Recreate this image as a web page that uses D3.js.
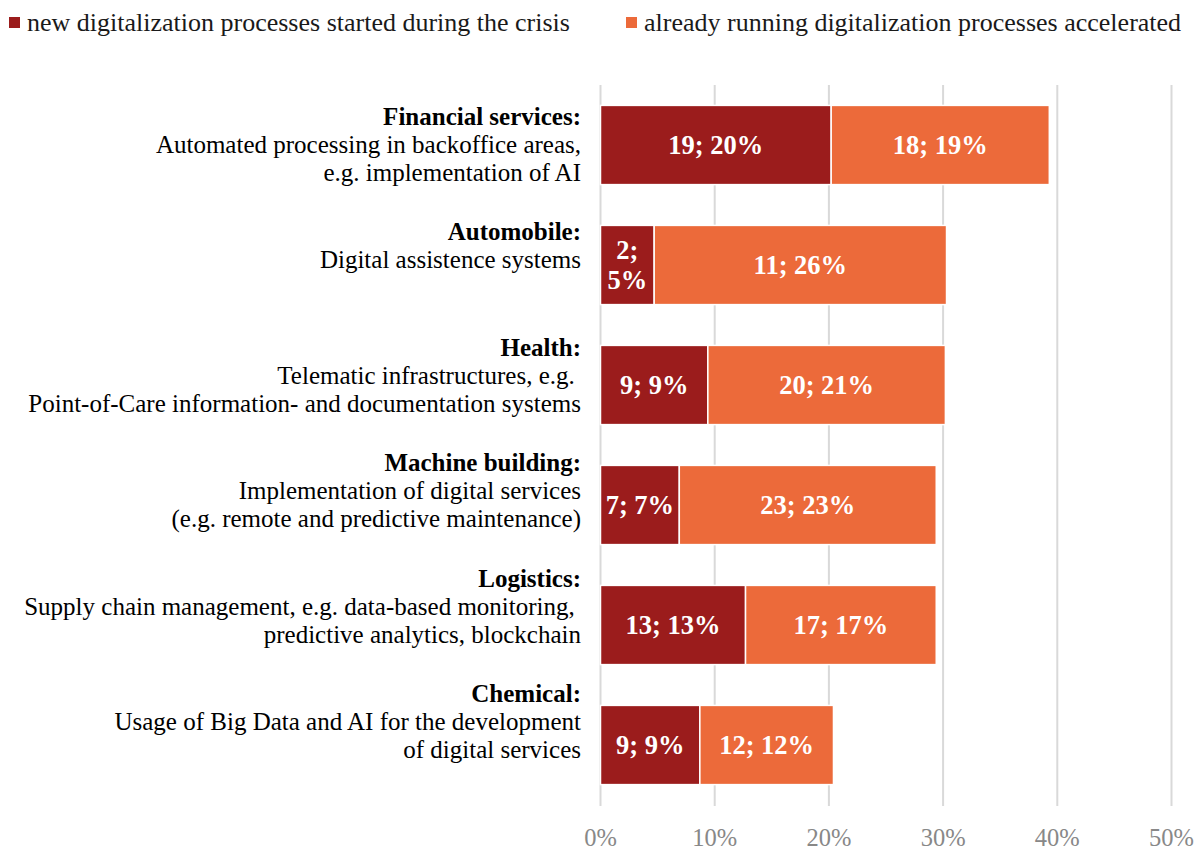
<!DOCTYPE html>
<html>
<head>
<meta charset="utf-8">
<script src="https://cdn.jsdelivr.net/npm/d3@7"></script>
<style>
  body { margin: 0; background: #fff; }
  svg text { font-family: "Liberation Serif", "Times New Roman", serif; }
</style>
</head>
<body>
<div id="chart"></div>
<script>
// categories (title + description lines)
var titles = ["Financial services:", "Automobile:", "Health:", "Machine building:", "Logistics:", "Chemical:"];
var descriptions = [
    ["Automated processing in backoffice areas,", "e.g. implementation of AI"],
    ["Digital assistence systems"],
    ["Telematic infrastructures, e.g. ", "Point-of-Care information- and documentation systems"],
    ["Implementation of digital services", "(e.g. remote and predictive maintenance)"],
    ["Supply chain management, e.g. data-based monitoring, ", "predictive analytics, blockchain"],
    ["Usage of Big Data and AI for the development", "of digital services"]
];
// share of respondents in percent (bar lengths)
var newShare = [20.2, 4.7, 9.4, 6.9, 12.7, 8.7];
var accShare = [19.1, 25.6, 20.8, 22.5, 16.7, 11.7];
// counts and rounded percentages shown in the labels
var newCount = [19, 2, 9, 7, 13, 9];
var newPct = [20, 5, 9, 7, 13, 9];
var accCount = [18, 11, 20, 23, 17, 12];
var accPct = [19, 26, 21, 23, 17, 12];
var seriesNames = ["new digitalization processes started during the crisis", "already running digitalization processes accelerated"];
var xTicks = [0, 10, 20, 30, 40, 50];

var colors = ["#9b1c1c", "#ec6a3a"];
var width = 1200, height = 851;

var svg = d3.select("#chart").append("svg")
    .attr("width", width)
    .attr("height", height);

var xScale = d3.scaleLinear()
    .domain([0, 50])
    .range([600.5, 1171.5]);

var yScale = d3.scaleBand()
    .domain(titles)
    .range([85, 805])
    .paddingInner(0.34)
    .paddingOuter(0.17);

// category labels sit on their own slightly tighter spacing
var labelY = d3.scaleLinear()
    .domain([0, titles.length - 1])
    .range([125, 702]);

//gridlines
svg.selectAll(".grid")
    .data(xTicks)
    .enter()
    .append("line")
    .attr("class", "grid")
    .attr("x1", d => xScale(d))
    .attr("x2", d => xScale(d))
    .attr("y1", 85)
    .attr("y2", 806)
    .attr("stroke", "#d9d9d9")
    .attr("stroke-width", 2);

//x axis tick labels
svg.selectAll(".tick-label")
    .data(xTicks)
    .enter()
    .append("text")
    .attr("class", "tick-label")
    .attr("x", d => xScale(d))
    .attr("y", 846)
    .attr("text-anchor", "middle")
    .attr("font-size", 24.5)
    .attr("fill", "#888888")
    .text(d => d + "%");

// stacked rows
var rows = titles.map(function (t, i) {
    return [
        { cat: t, x0: 0, x1: newShare[i], label: newCount[i] + "; " + newPct[i] + "%", s: 0 },
        { cat: t, x0: newShare[i], x1: newShare[i] + accShare[i], label: accCount[i] + "; " + accPct[i] + "%", s: 1 }
    ];
});
var segs = [].concat.apply([], rows);

svg.selectAll(".bars")
    .data(segs)
    .enter()
    .append("rect")
    .attr("class", "bars")
    .attr("x", d => xScale(d.x0))
    .attr("y", d => yScale(d.cat))
    .attr("width", d => xScale(d.x1) - xScale(d.x0))
    .attr("height", yScale.bandwidth())
    .attr("fill", d => colors[d.s])
    .attr("stroke", "#fff")
    .attr("stroke-width", 1.5);

//value labels, wrapped when the bar is too narrow
var vl = svg.selectAll(".counts")
    .data(segs)
    .enter()
    .append("text")
    .attr("class", "counts")
    .attr("x", d => (xScale(d.x0) + xScale(d.x1)) / 2)
    .attr("y", d => yScale(d.cat) + yScale.bandwidth() / 2)
    .attr("text-anchor", "middle")
    .attr("font-size", 26.5)
    .attr("font-weight", "bold")
    .attr("fill", "#fff")
    .attr("dy", "0.35em")
    .text(d => d.label);

vl.each(function (d) {
    var t = d3.select(this);
    var w = this.getComputedTextLength();
    if (w > xScale(d.x1) - xScale(d.x0) - 6) {
        var parts = d.label.split(" ");
        var cx = (xScale(d.x0) + xScale(d.x1)) / 2;
        var cy = yScale(d.cat) + yScale.bandwidth() / 2;
        t.text(null).attr("dy", null);
        t.append("tspan").attr("x", cx).attr("y", cy - 6).text(parts[0]);
        t.append("tspan").attr("x", cx).attr("y", cy + 24).text(parts[1]);
    }
});

//category labels
titles.forEach(function (t, i) {
    var g = svg.append("text")
        .attr("class", "cat-label")
        .attr("text-anchor", "end")
        .attr("font-size", 25)
        .attr("fill", "#000")
        .attr("y", labelY(i));
    g.append("tspan")
        .attr("x", 581)
        .attr("font-weight", "bold")
        .text(t);
    descriptions[i].forEach(function (line) {
        g.append("tspan")
            .attr("x", 581)
            .attr("dy", 28)
            .style("white-space", "pre")
            .text(line);
    });
});

//legend
var legendX = [9, 626];
var legend = svg.selectAll(".legend")
    .data(seriesNames)
    .enter()
    .append("g")
    .attr("class", "legend")
    .attr("transform", (d, i) => "translate(" + legendX[i] + ",0)");
legend.append("rect")
    .attr("x", 0)
    .attr("y", 17)
    .attr("width", 11)
    .attr("height", 11)
    .attr("fill", (d, i) => colors[i]);
legend.append("text")
    .attr("x", 18)
    .attr("y", 31)
    .attr("font-size", 26)
    .attr("fill", "#1a1a1a")
    .text(d => d);
</script>
</body>
</html>
